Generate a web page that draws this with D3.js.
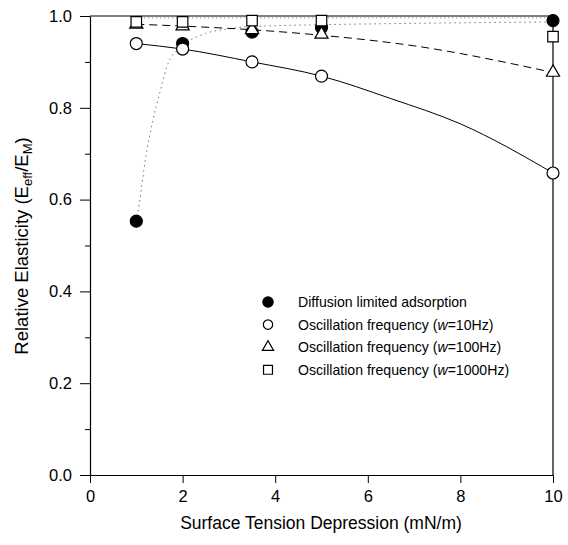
<!DOCTYPE html>
<html>
<head>
<meta charset="utf-8">
<script src="https://cdn.jsdelivr.net/npm/d3@7"></script>
<style>
  html, body { margin: 0; padding: 0; background: #fff; }
  svg { display: block; font-family: "Liberation Sans", Arial, sans-serif; }
</style>
</head>
<body>
<svg id="chart" width="568" height="545"></svg>
<script>
// Measured points: x = surface tension depression (mN/m)
const depression = [1, 2, 3.5, 5, 10];
const diffusion = [0.553, 0.94, 0.965, 0.975, 0.99];
const freq10 = [0.94, 0.928, 0.90, 0.869, 0.658];
const freq100 = [0.982, 0.978, 0.97, 0.96, 0.877];
const freq1000 = [0.987, 0.987, 0.99, 0.99, 0.955];

// Fitted curves through each series
const diffusionFitX = [1, 1.06, 1.2, 1.36, 1.5, 1.7, 2, 2.5, 3, 3.5, 5, 7, 10];
const diffusionFitY = [0.553, 0.588, 0.69, 0.773, 0.83, 0.9, 0.935, 0.962, 0.972, 0.977, 0.981, 0.984, 0.987];
const freq10FitX = [1, 2, 3.5, 5, 6.5, 8, 10];
const freq10FitY = [0.94, 0.928, 0.90, 0.869, 0.82, 0.765, 0.658];
const freq100FitX = [1, 2, 3.5, 5, 7, 10];
const freq100FitY = [0.982, 0.978, 0.97, 0.958, 0.935, 0.877];
const freq1000FitX = [1, 10];
const freq1000FitY = [0.996, 0.996];

const xTicks = [0, 2, 4, 6, 8, 10];
const yTicks = [0, 0.2, 0.4, 0.6, 0.8, 1.0];
const yMinorTicks = [0.1, 0.3, 0.5, 0.7, 0.9];

const legendLabels = [
  { text: "Diffusion limited adsorption", w: null, hz: null },
  { text: "Oscillation frequency (", w: "w", hz: "=10Hz)" },
  { text: "Oscillation frequency (", w: "w", hz: "=100Hz)" },
  { text: "Oscillation frequency (", w: "w", hz: "=1000Hz)" }
];

const svg = d3.select("#chart");
const plotL = 90, plotR = 553, plotT = 16, plotB = 475;

const x = d3.scaleLinear().domain([0, 10]).range([plotL, plotR]);
const y = d3.scaleLinear().domain([0, 1]).range([plotB, plotT]);

// Frame (top and right edges)
svg.append("path")
  .attr("d", `M${plotL},${plotT}H${plotR}V${plotB}`)
  .attr("fill", "none").attr("stroke", "#000").attr("stroke-width", 1.2);

// Axes
svg.append("g").attr("transform", `translate(0,${plotB})`)
  .call(d3.axisBottom(x).tickValues(xTicks).tickFormat(d3.format("d")).tickSize(8).tickSizeOuter(0).tickPadding(7));
svg.append("g").attr("transform", `translate(${plotL},0)`)
  .call(d3.axisLeft(y).tickValues(yTicks).tickFormat(d3.format(".1f")).tickSize(10).tickSizeOuter(0).tickPadding(8));
svg.append("g").attr("transform", `translate(${plotL},0)`)
  .call(d3.axisLeft(y).tickValues(yMinorTicks).tickFormat("").tickSize(5).tickSizeOuter(0))
  .select(".domain").remove();

svg.selectAll(".domain").attr("stroke-width", 1.2);
svg.selectAll(".tick line").attr("stroke-width", 1);
svg.selectAll(".tick text").attr("font-size", 16.5).attr("fill", "#000")
  .attr("font-family", '"Liberation Sans", Arial, sans-serif');

// Axis titles
svg.append("text").attr("x", 321).attr("y", 529)
  .attr("text-anchor", "middle").attr("font-size", 17.5).text("Surface Tension Depression (mN/m)");

const yt = svg.append("text").attr("transform", `translate(28,246) rotate(-90)`)
  .attr("text-anchor", "middle").attr("font-size", 18.5);
yt.append("tspan").text("Relative Elasticity (E");
yt.append("tspan").attr("font-size", 13).attr("dy", 4).text("eff");
yt.append("tspan").attr("dy", -4).text("/E");
yt.append("tspan").attr("font-size", 13).attr("dy", 4).text("M");
yt.append("tspan").attr("dy", -4).text(")");

// Fit lines
const line = d3.line().x(d => x(d[0])).y(d => y(d[1])).curve(d3.curveMonotoneX);
const zip = (a, b) => a.map((v, i) => [v, b[i]]);

svg.append("path").datum(zip(freq1000FitX, freq1000FitY)).attr("d", line)
  .attr("fill", "none").attr("stroke", "#777").attr("stroke-width", 1).attr("stroke-dasharray", "1,3");
svg.append("path").datum(zip(diffusionFitX, diffusionFitY)).attr("d", line)
  .attr("fill", "none").attr("stroke", "#777").attr("stroke-width", 1).attr("stroke-dasharray", "1.5,3.5");
svg.append("path").datum(zip(freq10FitX, freq10FitY)).attr("d", line)
  .attr("fill", "none").attr("stroke", "#000").attr("stroke-width", 1);
svg.append("path").datum(zip(freq100FitX, freq100FitY)).attr("d", line)
  .attr("fill", "none").attr("stroke", "#000").attr("stroke-width", 1).attr("stroke-dasharray", "8,5");

// Markers
const circleSym = d3.symbol().type(d3.symbolCircle).size(Math.PI * 36);
const triSym = d3.symbol().type(d3.symbolTriangle).size(75);
const sqSym = d3.symbol().type(d3.symbolSquare).size(110);

function drawMarkers(vals, sym, fill) {
  svg.append("g").selectAll("path").data(zip(depression, vals)).join("path")
    .attr("transform", d => `translate(${x(d[0])},${y(d[1])})`)
    .attr("d", sym).attr("fill", fill).attr("stroke", "#000").attr("stroke-width", 1.2);
}
drawMarkers(diffusion, circleSym, "#000");
drawMarkers(freq10, circleSym, "#fff");
drawMarkers(freq100, triSym, "#fff");
drawMarkers(freq1000, sqSym, "#fff");

// Legend (smaller symbols than the plotted points)
const legendSyms = [
  { sym: d3.symbol().type(d3.symbolCircle).size(Math.PI * 27), fill: "#000" },
  { sym: d3.symbol().type(d3.symbolCircle).size(Math.PI * 22), fill: "#fff" },
  { sym: d3.symbol().type(d3.symbolTriangle).size(55), fill: "#fff" },
  { sym: d3.symbol().type(d3.symbolSquare).size(80), fill: "#fff" }
];
const lg = svg.append("g");
legendLabels.forEach((lab, i) => {
  const cy = 302 + i * 22.6;
  lg.append("path").attr("transform", `translate(268,${cy})`)
    .attr("d", legendSyms[i].sym).attr("fill", legendSyms[i].fill)
    .attr("stroke", "#000").attr("stroke-width", 1.2);
  const t = lg.append("text").attr("x", 298).attr("y", cy + 5).attr("font-size", 14.1);
  t.append("tspan").text(lab.text);
  if (lab.w) {
    t.append("tspan").attr("font-style", "italic").text(lab.w);
    t.append("tspan").text(lab.hz);
  }
});
</script>
</body>
</html>
